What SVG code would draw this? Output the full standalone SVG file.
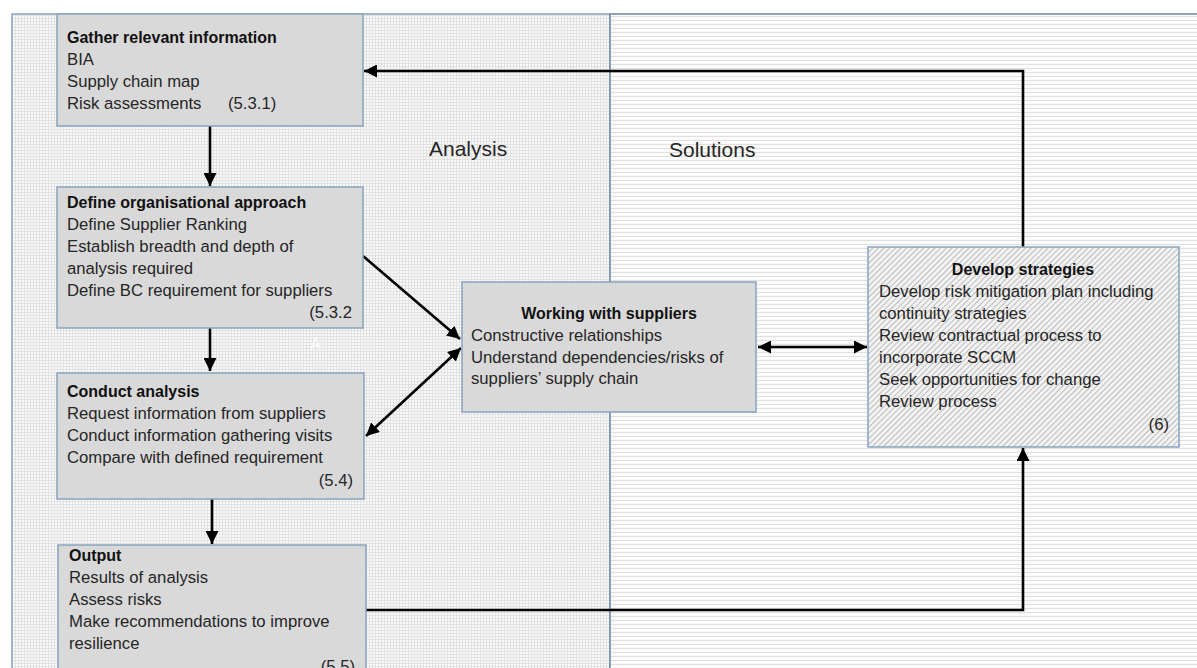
<svg xmlns="http://www.w3.org/2000/svg" width="1197" height="668" viewBox="0 0 1197 668">
<defs>
<pattern id="grid" width="3" height="3" patternUnits="userSpaceOnUse">
<rect width="3" height="3" fill="#f9f9f9"/>
<path d="M0 0.5H3M0.5 0V3" stroke="#e2e2e2" stroke-width="1"/>
</pattern>
<pattern id="hlines" width="4" height="4" patternUnits="userSpaceOnUse">
<rect width="4" height="4" fill="#fbfbfb"/>
<path d="M0 0.5H4" stroke="#e0e0e0" stroke-width="1"/>
</pattern>
<pattern id="hatch" width="4" height="4" patternUnits="userSpaceOnUse" patternTransform="rotate(45)">
<rect width="4" height="4" fill="#f2f2f2"/>
<path d="M0.5 0V4" stroke="#bdbdbd" stroke-width="1"/>
</pattern>
<marker id="ah" viewBox="0 0 10 10" refX="10" refY="5" markerWidth="5" markerHeight="5" orient="auto-start-reverse" markerUnits="strokeWidth">
<path d="M0 0L10 5L0 10Z" fill="#000"/>
</marker>
<style>
.node{fill:#d9d9d9;stroke:#8aa2c0;stroke-width:1.5}
.t{font-family:"Liberation Sans",Arial,sans-serif;font-size:16.7px;fill:#262626}
.b{font-weight:bold;font-size:16px;fill:#111}
.lbl{font-family:"Liberation Sans",Arial,sans-serif;font-size:21px;fill:#262626}
.c{fill:none;stroke:#000;stroke-width:2.6}
</style>
</defs>
<rect x="0" y="0" width="1197" height="668" fill="#fff"/>
<g id="panels">
<rect x="12" y="14" width="598" height="660" fill="url(#grid)" stroke="#8aa2c0" stroke-width="1.5"/>
<rect x="610" y="14" width="590" height="660" fill="url(#hlines)" stroke="#6f88a8" stroke-width="1.5"/>
<text class="lbl" x="429" y="156">Analysis</text>
<text class="lbl" x="669" y="157">Solutions</text>
</g>
<g id="connectors">
<path class="c" d="M210 126V186" marker-end="url(#ah)"/>
<path class="c" d="M210 328V371" marker-end="url(#ah)"/>
<path class="c" d="M212 499V544" marker-end="url(#ah)"/>
<path class="c" d="M363 256L460 339" marker-end="url(#ah)"/>
<path class="c" d="M366 436L461 348" marker-start="url(#ah)" marker-end="url(#ah)"/>
<path class="c" d="M758 347H867" marker-start="url(#ah)" marker-end="url(#ah)"/>
<path class="c" d="M1023 247V71H364" marker-end="url(#ah)"/>
<path class="c" d="M366 610H1023V448" marker-end="url(#ah)"/>
</g>
<g id="n1">
<rect class="node" x="57" y="14" width="306" height="112"/>
<text class="t b" x="67" y="43">Gather relevant information</text>
<text class="t" x="67" y="65">BIA</text>
<text class="t" x="67" y="87">Supply chain map</text>
<text class="t" x="67" y="109">Risk assessments</text>
<text class="t" x="228" y="109">(5.3.1)</text>
</g>
<g id="n2">
<rect class="node" x="57" y="187" width="306" height="141"/>
<text class="t b" x="67" y="208">Define organisational approach</text>
<text class="t" x="67" y="230">Define Supplier Ranking</text>
<text class="t" x="67" y="252">Establish breadth and depth of</text>
<text class="t" x="67" y="274">analysis required</text>
<text class="t" x="67" y="296">Define BC requirement for suppliers</text>
<text class="t" x="352" y="318" text-anchor="end">(5.3.2</text>
<text class="t" x="310" y="350" style="fill:#ffffff;opacity:0.8">A</text>
</g>
<g id="n3">
<rect class="node" x="57" y="373" width="307" height="126"/>
<text class="t b" x="67" y="397">Conduct analysis</text>
<text class="t" x="67" y="419">Request information from suppliers</text>
<text class="t" x="67" y="441">Conduct information gathering visits</text>
<text class="t" x="67" y="463">Compare with defined requirement</text>
<text class="t" x="353" y="486" text-anchor="end">(5.4)</text>
</g>
<g id="n4">
<rect class="node" x="58" y="545" width="308" height="140"/>
<text class="t b" x="69" y="561">Output</text>
<text class="t" x="69" y="583">Results of analysis</text>
<text class="t" x="69" y="605">Assess risks</text>
<text class="t" x="69" y="627">Make recommendations to improve</text>
<text class="t" x="69" y="649">resilience</text>
<text class="t" x="355" y="672" text-anchor="end">(5.5)</text>
</g>
<g id="n5">
<rect class="node" x="462" y="282" width="294" height="130"/>
<text class="t b" x="609" y="319" text-anchor="middle">Working with suppliers</text>
<text class="t" x="471" y="341">Constructive relationships</text>
<text class="t" x="471" y="363">Understand dependencies/risks of</text>
<text class="t" x="471" y="384">suppliers’ supply chain</text>
</g>
<g id="n6">
<rect x="868" y="247" width="311" height="200" fill="url(#hatch)" stroke="#8aa2c0" stroke-width="1.5"/>
<text class="t b" x="1023" y="275" text-anchor="middle">Develop strategies</text>
<text class="t" x="879" y="297">Develop risk mitigation plan including</text>
<text class="t" x="879" y="319">continuity strategies</text>
<text class="t" x="879" y="341">Review contractual process to</text>
<text class="t" x="879" y="363">incorporate SCCM</text>
<text class="t" x="879" y="385">Seek opportunities for change</text>
<text class="t" x="879" y="407">Review process</text>
<text class="t" x="1169" y="430" text-anchor="end">(6)</text>
</g>
</svg>
